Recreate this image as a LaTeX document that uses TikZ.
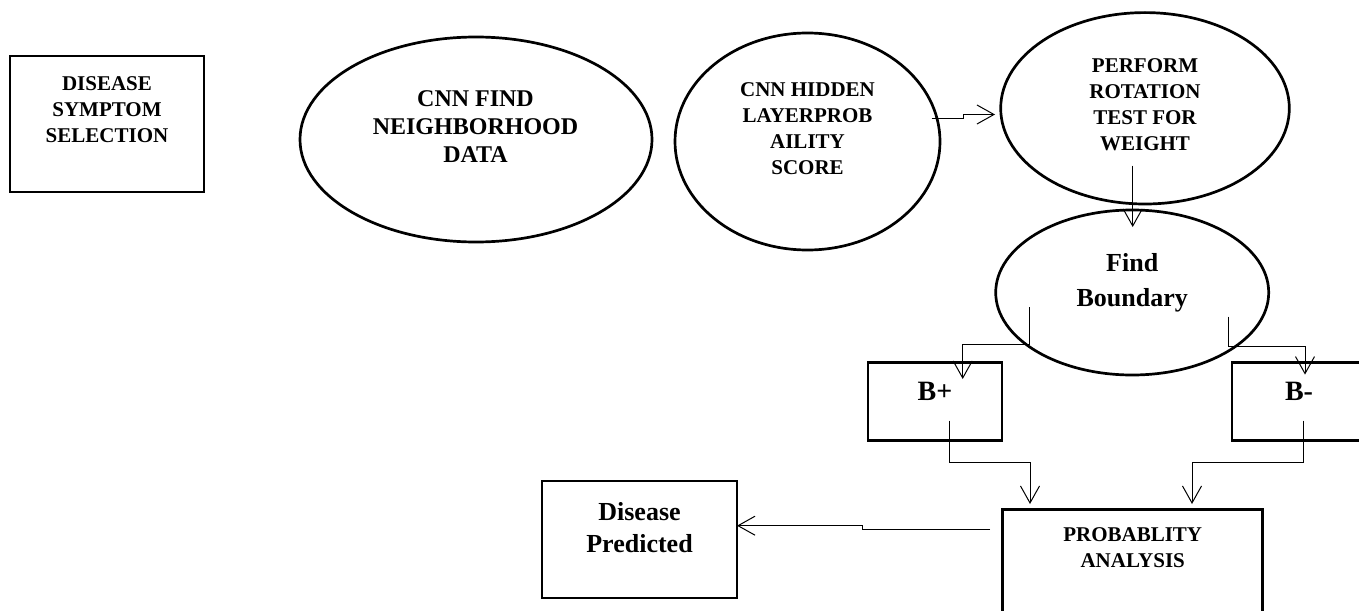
\documentclass[tikz,border=0pt]{standalone}
\usepackage{fontspec}
\setmainfont{Liberation Serif}
\usetikzlibrary{arrows.meta,shapes.geometric,calc}
\begin{document}
\begin{tikzpicture}[x=1pt,y=-1pt,
  shp/.style={draw, line width=2.7pt, inner sep=0pt, outer sep=0pt},
  ell/.style={shp, ellipse},
  box/.style={shp, rectangle},
  lbl/.style={align=center, inner sep=0pt, font=\bfseries\fontsize{21}{26}\selectfont},
  conn/.style={line width=1pt, -{Straight Barb[length=17pt,width=19pt,line width=1pt]}}
]
\useasboundingbox (0,0) rectangle (1359,610);
\clip (0,0) rectangle (1359,610);

% nodes
\node[box, minimum width=194, minimum height=136,
  label={[lbl, yshift=14]center:{DISEASE\\SYMPTOM\\SELECTION}}] (sym) at (107,124) {};
\node[ell, minimum width=352, minimum height=205,
  label={[lbl, font=\bfseries\fontsize{24}{28}\selectfont, yshift=12.5, xshift=-0.5]center:{CNN FIND\\NEIGHBORHOOD\\DATA}}] (cnn) at (476,139.5) {};
\node[ell, minimum width=265, minimum height=217,
  label={[lbl, yshift=13]center:{CNN HIDDEN\\LAYERPROB\\AILITY\\SCORE}}] (hidden) at (807.5,141.5) {};
\node[ell, minimum width=288.6, minimum height=191.4,
  label={[lbl, yshift=3.3]center:{PERFORM\\ROTATION\\TEST FOR\\WEIGHT}}] (perform) at (1145,108.3) {};
\node[ell, minimum width=273, minimum height=165,
  label={[lbl, font=\bfseries\fontsize{26}{35}\selectfont, yshift=9.6]center:{Find\\Boundary}}] (boundary) at (1132.2,292.5) {};
\node[box, minimum width=134, minimum height=78,
  label={[lbl, font=\bfseries\fontsize{28}{32}\selectfont, yshift=10.7]center:{B+}}] (Bp) at (935,401.7) {};
\node[box, minimum width=134, minimum height=78,
  label={[lbl, font=\bfseries\fontsize{28}{32}\selectfont, yshift=10.3]center:{B-}}] (Bm) at (1299,401.3) {};
\node[box, minimum width=260, minimum height=130,
  label={[lbl, yshift=26.3]center:{PROBABLITY\\ANALYSIS}}] (prob) at (1132.7,574.3) {};
\node[box, minimum width=195, minimum height=117,
  label={[lbl, font=\bfseries\fontsize{26}{32}\selectfont, yshift=12]center:{Disease\\Predicted}}] (pred) at (639.5,539.5) {};

% connectors
\draw[conn] ($(hidden.center)+(124.2,-23.2)$) -- ++(31.3,0) -- ++(0,-3.8)
  -- ($(perform.west)+(-5.7,6.2)$);
\draw[conn] ($(perform.center)+(-12.3,57.4)$) -- ($(boundary.north)+(0.5,17)$);
\draw[conn] ($(boundary.center)+(-102.9,14.8)$) |- ($(Bp.north)+(27.7,-18.7)$)
  -- ($(Bp.north)+(27.7,16.3)$);
\draw[conn] ($(boundary.center)+(96.5,24.2)$) |- ($(Bm.north)+(6,-16)$)
  -- ($(Bm.north)+(6,12.3)$);
\draw[conn] ($(Bp.center)+(14,19)$) |- ($(prob.north west)+(27.3,-46.6)$)
  -- ($(prob.north west)+(27.3,-5.3)$);
\draw[conn] ($(Bm.center)+(4,19.4)$) |- ($(prob.north west)+(189.3,-46.6)$)
  -- ($(prob.north west)+(189.3,-5.3)$);
\draw[conn] ($(prob.north west)+(-12.7,20)$) -- ++(-127.3,0) -- ++(0,-3.6)
  -- ($(pred.east)+(0,-13.8)$);
\end{tikzpicture}
\end{document}
